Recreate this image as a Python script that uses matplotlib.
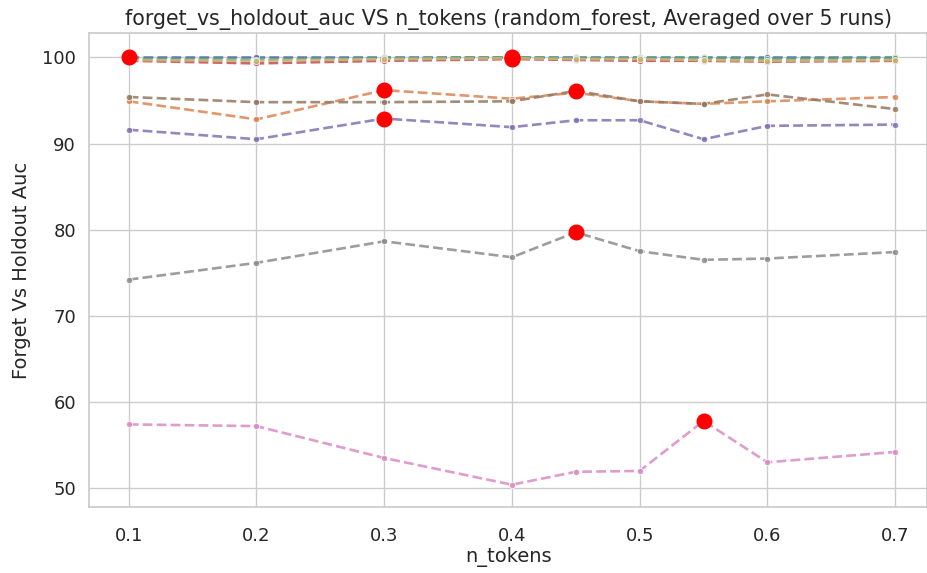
import matplotlib
matplotlib.use("Agg")
import matplotlib.pyplot as plt
import seaborn as sns
import numpy as np

sns.set_theme(style="whitegrid")
plt.rcParams['font.family'] = ['DejaVu Sans']

n_tokens = [0.1, 0.2, 0.3, 0.4, 0.45, 0.5, 0.55, 0.6, 0.7]

series_blue = [100.0, 100.0, 100.0, 100.0, 100.0, 100.0, 100.0, 100.0, 100.0]
series_orange = [94.9, 92.8, 96.2, 95.2, 95.9, 94.9, 94.6, 94.9, 95.4]
series_green = [99.8, 99.7, 99.9, 100.0, 99.9, 99.9, 99.9, 99.8, 99.9]
series_red = [99.6, 99.3, 99.6, 99.8, 99.7, 99.6, 99.6, 99.5, 99.6]
series_purple = [91.6, 90.5, 92.9, 91.9, 92.7, 92.7, 90.5, 92.05, 92.2]
series_brown = [95.4, 94.8, 94.8, 94.9, 96.1, 94.9, 94.6, 95.7, 94.0]
series_pink = [57.4, 57.2, 53.5, 50.4, 51.9, 52.0, 57.8, 53.0, 54.2]
series_gray = [74.2, 76.15, 78.65, 76.8, 79.7, 77.5, 76.5, 76.65, 77.4]
series_khaki = [99.7, 99.6, 99.8, 99.9, 99.8, 99.8, 99.7, 99.6, 99.7]

all_series = [series_blue, series_orange, series_green, series_red, series_purple,
              series_brown, series_pink, series_gray, series_khaki]

colors = sns.color_palette("deep", 10)

fig = plt.figure(figsize=(9.28, 5.73), dpi=100)
ax = fig.add_axes([0.096, 0.115, 0.903, 0.827])

for i, vals in enumerate(all_series):
    ax.plot(n_tokens, vals, linestyle="--", linewidth=1.9, color=colors[i], alpha=0.85,
            marker="o", markersize=4.5, markeredgecolor="white", markeredgewidth=0.6)

# highlight the best value of every series
for vals in all_series:
    k = int(np.argmax(vals))
    ax.plot(n_tokens[k], vals[k], marker="o", color="red", markersize=10.5,
            linestyle="none", zorder=5)

ax.set_xlim(0.069, 0.725)
ax.set_ylim(47.8, 102.8)
ax.set_xticks([0.1, 0.2, 0.3, 0.4, 0.5, 0.6, 0.7])
ax.set_yticks([50, 60, 70, 80, 90, 100])
ax.tick_params(labelsize=13)
ax.tick_params(axis="x", pad=8)
ax.set_xlabel("n_tokens", fontsize=14, labelpad=2)
ax.set_ylabel("Forget Vs Holdout Auc", fontsize=14, labelpad=8)
ax.set_title("forget_vs_holdout_auc VS n_tokens (random_forest, Averaged over 5 runs)",
             fontsize=14.8)
for sp in ax.spines.values():
    sp.set_color("#cccccc")

fig.savefig("out.png", dpi=100)
